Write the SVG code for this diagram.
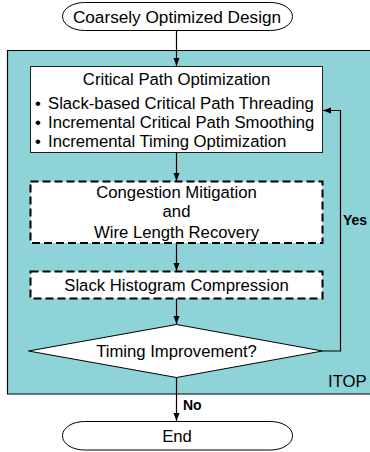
<svg xmlns="http://www.w3.org/2000/svg" width="370" height="452" viewBox="0 0 370 452">
  <defs>
    <marker id="arrow" viewBox="0 0 8 8" refX="8" refY="4" markerWidth="8" markerHeight="8" markerUnits="userSpaceOnUse" orient="auto">
      <path d="M0,1 L8,4 L0,7 Z" fill="#000"/>
    </marker>
    <style>
      text { font-family: "Liberation Sans", Arial, sans-serif; fill: #000; }
      .t { font-size: 16.7px; }
      .c { text-anchor: middle; }
      .lbl { font-size: 14px; font-weight: bold; }
      .solid { fill: #fff; stroke: #222; stroke-width: 1; }
      .dash { fill: #fff; stroke: #000; stroke-width: 2; stroke-dasharray: 8 4; }
      .term { fill: #fff; stroke: #000; stroke-width: 1; }
      .wire { fill: none; stroke: #000; stroke-width: 1.2; }
    </style>
  </defs>

  <!-- ITOP loop region -->
  <g id="itop">
    <path d="M372,50.5 H7.5 V394 H372" fill="#8dd3d8" stroke="#000" stroke-width="1.2"/>
    <text class="t" x="328" y="387">ITOP</text>
  </g>

  <g id="start">
    <rect class="term" x="62.5" y="2.5" width="230" height="28" rx="22" ry="14"/>
    <text class="c" x="177" y="22.5" style="font-size:17.2px">Coarsely Optimized Design</text>
  </g>

  <g id="critical-path">
    <rect class="solid" x="30.5" y="66.5" width="292" height="86"/>
    <text class="t c" x="176.5" y="85">Critical Path Optimization</text>
    <text class="t" x="35" y="108.5">•</text>
    <text class="t" x="48" y="108.5">Slack-based Critical Path Threading</text>
    <text class="t" x="35" y="128">•</text>
    <text class="t" x="48" y="128">Incremental Critical Path Smoothing</text>
    <text class="t" x="35" y="147">•</text>
    <text class="t" x="48" y="147">Incremental Timing Optimization</text>
  </g>

  <g id="congestion">
    <rect class="dash" x="30.5" y="181.5" width="292" height="61.5"/>
    <text class="t c" x="176.5" y="197.5">Congestion Mitigation</text>
    <text class="t c" x="176.5" y="217">and</text>
    <text class="t c" x="176.5" y="237.5">Wire Length Recovery</text>
  </g>

  <g id="slack-histogram">
    <rect class="dash" x="30.5" y="271.5" width="292" height="27"/>
    <text class="t c" x="176.5" y="291">Slack Histogram Compression</text>
  </g>

  <g id="timing-check">
    <polygon points="176.5,324.5 322.5,351 176.5,377.5 28.5,351" fill="#fff" stroke="#000" stroke-width="1"/>
    <text class="t c" x="176.5" y="357">Timing Improvement?</text>
  </g>

  <g id="end">
    <rect class="term" x="62.5" y="421.5" width="230" height="28.5" rx="22" ry="14"/>
    <text class="t c" x="177" y="441.5">End</text>
  </g>

  <g id="connectors">
    <line class="wire" x1="176.5" y1="30.5" x2="176.5" y2="66" marker-end="url(#arrow)"/>
    <line class="wire" x1="176.5" y1="152.5" x2="176.5" y2="181" marker-end="url(#arrow)"/>
    <line class="wire" x1="176.5" y1="243" x2="176.5" y2="271" marker-end="url(#arrow)"/>
    <line class="wire" x1="176.5" y1="298.5" x2="176.5" y2="324" marker-end="url(#arrow)"/>
    <line class="wire" x1="176.5" y1="377.5" x2="176.5" y2="421" marker-end="url(#arrow)"/>
    <polyline class="wire" points="322.5,351 340.5,351 340.5,110.5 323,110.5" marker-end="url(#arrow)"/>
    <text class="lbl" x="343" y="225">Yes</text>
    <text class="lbl" x="183" y="410">No</text>
  </g>
</svg>
